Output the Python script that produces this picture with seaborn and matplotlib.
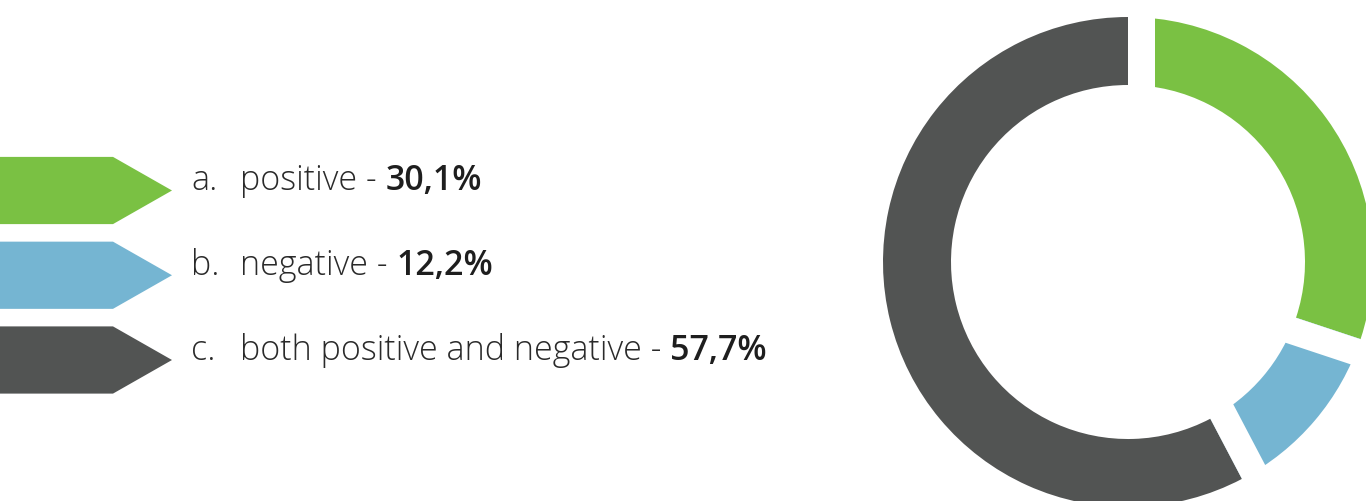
import numpy as np
import matplotlib
matplotlib.use("Agg")
import matplotlib.pyplot as plt
from matplotlib.patches import Polygon
import seaborn as sns

# Survey answer shares (percent)
letters = ["a.", "b.", "c."]
labels = ["positive", "negative", "both positive and negative"]
shares = [30.1, 12.2, 57.7]
value_texts = ["30,1%", "12,2%", "57,7%"]
colors = ["#7AC143", "#75B5D2", "#525453"]

sns.set_theme(style="white")
plt.rcParams["font.family"] = ["Open Sans", "DejaVu Sans"]

W, H, DPI = 1366, 501, 100
fig = plt.figure(figsize=(W / DPI, H / DPI), dpi=DPI)
fig.patch.set_facecolor("white")

# ---- legend (pixel coordinates) ----
leg = fig.add_axes([0, 0, 1, 1])
leg.set_xlim(0, W)
leg.set_ylim(H, 0)
leg.axis("off")

row_y0, row_step = 190.5, 84.75
half_h, body_w, tip_x = 33.6, 113, 172
text_col = "#2a2a2a"
fs = 24.5
for i, (let, lab, val, col) in enumerate(zip(letters, labels, value_texts, colors)):
    cy = row_y0 + i * row_step
    arrow = Polygon([(0, cy - half_h), (body_w, cy - half_h), (tip_x, cy),
                     (body_w, cy + half_h), (0, cy + half_h)],
                    closed=True, facecolor=col, edgecolor="none")
    leg.add_patch(arrow)
    leg.text(191, cy, let, fontsize=fs, fontweight="light", color=text_col,
             va="baseline", ha="left")
    t = leg.text(240, cy, lab + " - ", fontsize=fs, fontweight="light",
                 color=text_col, va="baseline", ha="left")
    leg.annotate(val, xy=(1, 0), xycoords=t, fontsize=fs, fontweight="semibold",
                 color="#1e1e1e", va="bottom", ha="left")

# ---- donut ----
cx, cy, R, r_in = 1128, 262, 245, 177
ax = fig.add_axes([(cx - R) / W, (H - cy - R) / H, 2 * R / W, 2 * R / H])
ax.pie(shares, colors=colors, startangle=90, counterclock=False, radius=1,
       wedgeprops=dict(width=(R - r_in) / R, linewidth=0, edgecolor="none"))
ax.set_xlim(-1, 1)
ax.set_ylim(-1, 1)
ax.set_aspect("auto")
ax.axis("off")

# white separators, each laid on one side of a slice boundary
gap = 27 / R
bounds = 90 - np.cumsum([0] + shares[:-1]) * 3.6
sides = [1, 1, -1]
for ang, s in zip(bounds, sides):
    th = np.deg2rad(ang)
    d = np.array([np.cos(th), np.sin(th)])
    n = np.array([np.sin(th), -np.cos(th)]) * s * gap
    ax.add_patch(Polygon([(0, 0), 1.2 * d, 1.2 * d + n, n], closed=True,
                         facecolor="white", edgecolor="none", zorder=5))

fig.savefig("out.png", dpi=DPI, facecolor="white")
